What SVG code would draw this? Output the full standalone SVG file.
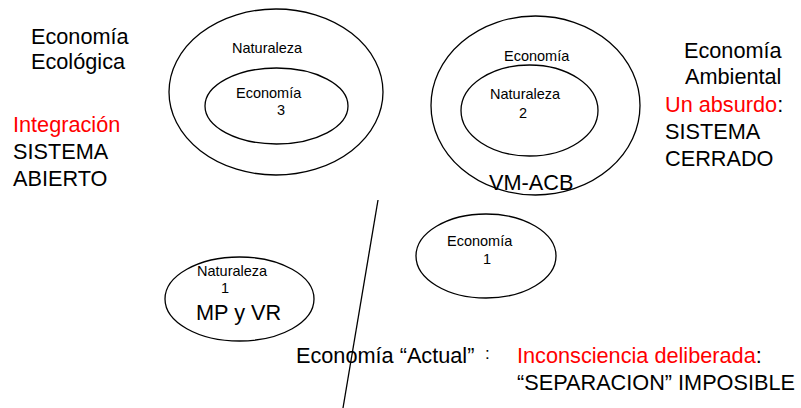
<svg xmlns="http://www.w3.org/2000/svg" width="801" height="408" viewBox="0 0 801 408">
<style>
text{font-family:"Liberation Sans",Arial,sans-serif;fill:#000}
.s{font-size:14.5px}
.l{font-size:21.7px}
.r{fill:#ff0000}
ellipse{fill:none;stroke:#000;stroke-width:1.3}
line{stroke:#000;stroke-width:1.3}
</style>
<rect width="801" height="408" fill="#fff"/>
<g id="label-ecologica">
<text class="l" x="31" y="44">Economía</text>
<text class="l" x="31" y="69">Ecológica</text>
</g>
<g id="label-integracion">
<text class="l r" x="13" y="132">Integración</text>
<text class="l" x="13" y="159">SISTEMA</text>
<text class="l" x="13" y="186">ABIERTO</text>
</g>
<g id="node-naturaleza3">
<ellipse cx="276" cy="92" rx="107" ry="83"/>
<text class="s" x="232" y="53">Naturaleza</text>
</g>
<g id="node-economia3">
<ellipse cx="276.5" cy="106" rx="71.5" ry="38"/>
<text class="s" x="236" y="98">Economía</text>
<text class="s" x="277" y="115">3</text>
</g>
<g id="node-economia2">
<ellipse cx="535.5" cy="105.5" rx="104.5" ry="89.5"/>
<text class="s" x="504" y="61">Economía</text>
<text class="l" x="489" y="190">VM-ACB</text>
</g>
<g id="node-naturaleza2">
<ellipse cx="529.5" cy="110.5" rx="68.5" ry="45.5"/>
<text class="s" x="490" y="99">Naturaleza</text>
<text class="s" x="519" y="118">2</text>
</g>
<g id="label-ambiental">
<text class="l" x="684" y="58">Economía</text>
<text class="l" x="685" y="84">Ambiental</text>
<text class="l" x="665" y="112"><tspan class="r">Un absurdo</tspan>:</text>
<text class="l" x="665" y="139">SISTEMA</text>
<text class="l" x="665" y="166">CERRADO</text>
</g>
<g id="node-naturaleza1">
<ellipse cx="239.5" cy="299" rx="74.5" ry="42"/>
<text class="s" x="197" y="276">Naturaleza</text>
<text class="s" x="221" y="293">1</text>
<text class="l" x="196" y="320">MP y VR</text>
</g>
<g id="node-economia1">
<ellipse cx="486" cy="256" rx="70" ry="42"/>
<text class="s" x="447" y="246">Economía</text>
<text class="s" x="483" y="264">1</text>
</g>
<g id="connectors">
<line x1="378" y1="200" x2="343" y2="408"/>
</g>
<g id="label-actual">
<text class="l" x="296" y="363">Economía “Actual”</text>
<text x="485" y="359" style="font-size:17px">:</text>
</g>
<g id="label-separacion">
<text class="l" x="517" y="363"><tspan class="r">Inconsciencia deliberada</tspan>:</text>
<text class="l" x="517" y="390">“SEPARACION” IMPOSIBLE</text>
</g>
</svg>
